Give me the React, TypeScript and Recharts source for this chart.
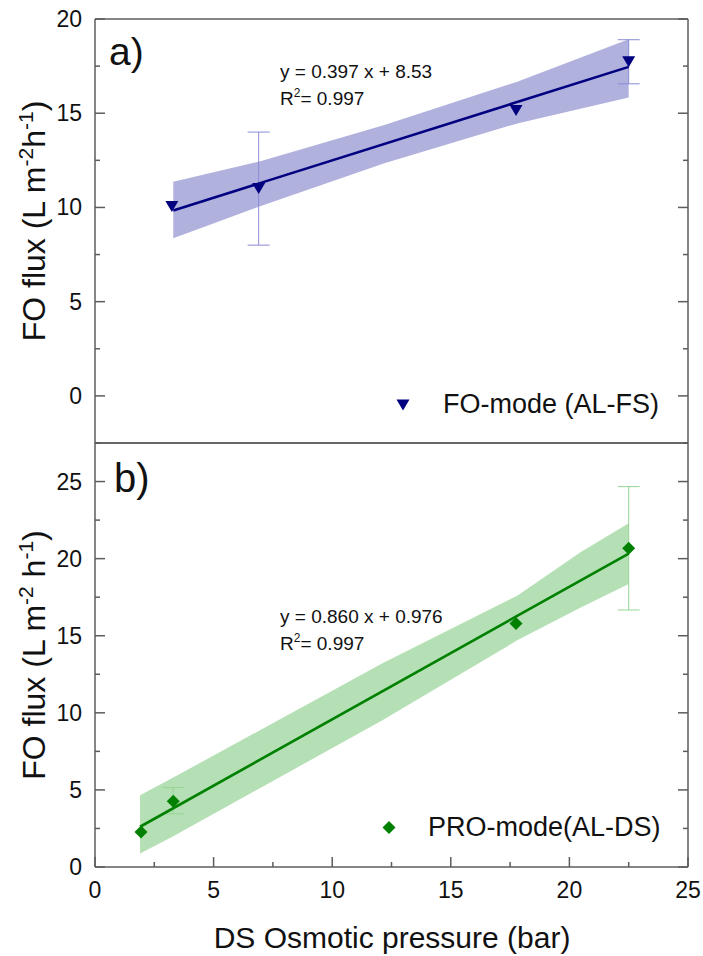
import {
  Area,
  ComposedChart,
  ErrorBar,
  Line,
  Scatter,
  XAxis,
  YAxis,
} from 'recharts'

// x: DS osmotic pressure (bar)
const xTicks = [0, 2.5, 5, 7.5, 10, 12.5, 15, 17.5, 20, 22.5, 25]

// panel a) FO-mode (AL-FS)
const foPressure = [3.24, 6.9, 17.75, 22.5]
const foFlux = [10.05, 11.0, 15.15, 17.73]
const foErr: (number | null)[] = [null, 3.0, null, 1.17]
const foFitX = [3.3, 22.5]
const foFitY = [9.84, 17.46]
const foBandX = [3.3, 6.9, 12.2, 17.8, 22.5]
const foBandLow = [8.36, 10.04, 12.34, 14.46, 15.84]
const foBandHigh = [11.36, 12.43, 14.37, 16.67, 18.92]
const foTicks = [-2.5, 0, 2.5, 5, 7.5, 10, 12.5, 15, 17.5, 20]

// panel b) PRO-mode (AL-DS)
const proPressure = [1.94, 3.3, 17.75, 22.5]
const proFlux = [2.27, 4.27, 15.8, 20.67]
const proErr: (number | number[] | null)[] = [null, [0.82, 0.88], null, 4.0]
const proFitX = [1.9, 22.5]
const proFitY = [2.61, 20.33]
const proBandX = [1.9, 3.3, 12.1, 17.8, 20.5, 22.5]
const proBandLow = [0.87, 2.0, 9.5, 14.7, 16.85, 18.35]
const proBandHigh = [4.66, 5.8, 13.2, 17.6, 20.45, 22.3]
const proTicks = [0, 2.5, 5, 7.5, 10, 12.5, 15, 17.5, 20, 22.5, 25, 27.5]

const FONT = '"Liberation Sans", Arial, sans-serif'
const FRAME = '#5c5c5c'

function TickMark(props: any) {
  const { x, y, payload, side, label, maxLabel } = props
  const v = payload.value
  const major = Math.abs(v / 5 - Math.round(v / 5)) < 1e-6
  const len = major ? 10 : 5
  let x2 = x
  let y2 = y
  if (side === 'bottom') y2 = y - len
  if (side === 'top') y2 = y + len
  if (side === 'left') x2 = x + len
  if (side === 'right') x2 = x - len
  const showText = label && major && (maxLabel == null || v <= maxLabel) && v >= 0
  return (
    <g>
      <line x1={x} y1={y} x2={x2} y2={y2} stroke={FRAME} strokeWidth={1.5} />
      {showText && side === 'bottom' && (
        <text x={x} y={y + 31} textAnchor="middle" fontSize={23} fontFamily={FONT} fill="#111">
          {v}
        </text>
      )}
      {showText && side === 'left' && (
        <text x={x - 13} y={y + 8} textAnchor="end" fontSize={23} fontFamily={FONT} fill="#111">
          {v}
        </text>
      )}
    </g>
  )
}

function TriangleDown({ cx, cy }: any) {
  if (cx == null || cy == null) return null
  return <polygon points={`${cx - 6.5},${cy - 5.5} ${cx + 6.5},${cy - 5.5} ${cx},${cy + 5.5}`} fill="#000080" />
}

function Diamond({ cx, cy }: any) {
  if (cx == null || cy == null) return null
  return <polygon points={`${cx},${cy - 6.5} ${cx + 6.5},${cy} ${cx},${cy + 6.5} ${cx - 6.5},${cy}`} fill="#008000" />
}

type PanelProps = {
  top: number
  height: number
  margin: { top: number; bottom: number; left: number; right: number }
  points: { x: number; y: number; err?: number | number[] }[]
  fit: { x: number; y: number }[]
  band: { x: number; band: number[] }[]
  yDomain: [number, number]
  yTicks: number[]
  maxLabel: number
  xLabels: boolean
  bottomTicks: boolean
  color: string
  bandColor: string
  errColor: string
  shape: any
}

function Panel(p: PanelProps) {
  const axisLine = { stroke: FRAME, strokeWidth: 1.5 }
  return (
    <div style={{ position: 'absolute', left: 0, top: p.top }}>
      <ComposedChart width={703} height={p.height} margin={p.margin}>
        <XAxis
          xAxisId={0}
          dataKey="x"
          type="number"
          domain={[0, 25]}
          ticks={xTicks}
          interval={0}
          height={1}
          tickSize={0}
          tickMargin={0}
          tickLine={false}
          axisLine={axisLine}
          allowDataOverflow
          tick={p.bottomTicks ? <TickMark side="bottom" label={p.xLabels} /> : false}
        />
        <XAxis
          xAxisId="t"
          orientation="top"
          type="number"
          domain={[0, 25]}
          ticks={xTicks}
          interval={0}
          height={1}
          tickSize={0}
          tickMargin={0}
          tickLine={false}
          axisLine={axisLine}
          tick={<TickMark side="top" />}
        />
        <YAxis
          yAxisId={0}
          type="number"
          domain={p.yDomain}
          ticks={p.yTicks}
          interval={0}
          width={1}
          tickSize={0}
          tickMargin={0}
          tickLine={false}
          axisLine={axisLine}
          allowDataOverflow
          tick={<TickMark side="left" label maxLabel={p.maxLabel} />}
        />
        <YAxis
          yAxisId="r"
          orientation="right"
          type="number"
          domain={p.yDomain}
          ticks={p.yTicks}
          interval={0}
          width={1}
          tickSize={0}
          tickMargin={0}
          tickLine={false}
          axisLine={axisLine}
          allowDataOverflow
          tick={<TickMark side="right" />}
        />
        <Area
          data={p.band}
          dataKey="band"
          type="linear"
          stroke="none"
          fill={p.bandColor}
          fillOpacity={1}
          isAnimationActive={false}
          activeDot={false}
        />
        <Scatter data={p.points} dataKey="y" shape={() => null} isAnimationActive={false}>
          <ErrorBar dataKey="err" direction="y" width={11} stroke={p.errColor} strokeWidth={1} />
        </Scatter>
        <Line
          data={p.fit}
          dataKey="y"
          type="linear"
          stroke={p.color}
          strokeWidth={2.6}
          dot={false}
          activeDot={false}
          isAnimationActive={false}
        />
        <Scatter data={p.points} dataKey="y" shape={p.shape} isAnimationActive={false} />
      </ComposedChart>
    </div>
  )
}

export default function App() {
  const foPoints = foPressure.map((x, i) => ({ x, y: foFlux[i], ...(foErr[i] != null ? { err: foErr[i] as number } : {}) }))
  const foFit = foFitX.map((x, i) => ({ x, y: foFitY[i] }))
  const foBand = foBandX.map((x, i) => ({ x, band: [foBandLow[i], foBandHigh[i]] }))
  const proPoints = proPressure.map((x, i) => ({ x, y: proFlux[i], ...(proErr[i] != null ? { err: proErr[i] as any } : {}) }))
  const proFit = proFitX.map((x, i) => ({ x, y: proFitY[i] }))
  const proBand = proBandX.map((x, i) => ({ x, band: [proBandLow[i], proBandHigh[i]] }))

  return (
    <div style={{ position: 'absolute', left: 0, top: 0, width: 703, height: 956, background: '#fff' }}>
      <Panel
        top={0}
        height={460}
        margin={{ top: 18, bottom: 16, left: 94, right: 14 }}
        points={foPoints}
        fit={foFit}
        band={foBand}
        yDomain={[-2.5, 20]}
        yTicks={foTicks}
        maxLabel={20}
        xLabels={false}
        bottomTicks={false}
        color="#000080"
        bandColor="#b1b1de"
        errColor="#8a8ad8"
        shape={<TriangleDown />}
      />
      <Panel
        top={400}
        height={556}
        margin={{ top: 42, bottom: 88, left: 94, right: 14 }}
        points={proPoints}
        fit={proFit}
        band={proBand}
        yDomain={[0, 27.5]}
        yTicks={proTicks}
        maxLabel={25}
        xLabels
        bottomTicks
        color="#008000"
        bandColor="#b5e0b5"
        errColor="#95d495"
        shape={<Diamond />}
      />
      <svg
        width={703}
        height={956}
        style={{ position: 'absolute', left: 0, top: 0, pointerEvents: 'none' }}
        fontFamily={FONT}
        fill="#111"
      >
        <text x={109} y={65} fontSize={39}>a)</text>
        <text x={114} y={492} fontSize={40}>b)</text>

        <text x={280} y={78} fontSize={19}>y = 0.397 x + 8.53</text>
        <text x={280} y={105} fontSize={19}>
          R<tspan dy={-8} fontSize={12}>2</tspan><tspan dy={8}>= 0.997</tspan>
        </text>
        <text x={280} y={623} fontSize={19}>y = 0.860 x + 0.976</text>
        <text x={280} y={650} fontSize={19}>
          R<tspan dy={-8} fontSize={12}>2</tspan><tspan dy={8}>= 0.997</tspan>
        </text>

        <polygon points="396.5,399.5 409.5,399.5 403,410.5" fill="#000080" />
        <text x={443} y={413} fontSize={27}>FO-mode (AL-FS)</text>
        <polygon points="389,821 395.5,827.5 389,834 382.5,827.5" fill="#008000" />
        <text x={428} y={836} fontSize={27}>PRO-mode(AL-DS)</text>

        <text x={392} y={948} fontSize={30} textAnchor="middle">DS Osmotic pressure (bar)</text>

        <text transform="translate(45,221) rotate(-90)" textAnchor="middle" fontSize={32}>
          FO flux (L m<tspan dy={-12} fontSize={21}>-2</tspan>
          <tspan dy={12}>h</tspan>
          <tspan dy={-12} fontSize={21}>-1</tspan>
          <tspan dy={12}>)</tspan>
        </text>
        <text transform="translate(45,655) rotate(-90)" textAnchor="middle" fontSize={32}>
          FO flux (L m<tspan dy={-12} fontSize={21}>-2</tspan>
          <tspan dy={12}> h</tspan>
          <tspan dy={-12} fontSize={21}>-1</tspan>
          <tspan dy={12}>)</tspan>
        </text>
      </svg>
    </div>
  )
}
